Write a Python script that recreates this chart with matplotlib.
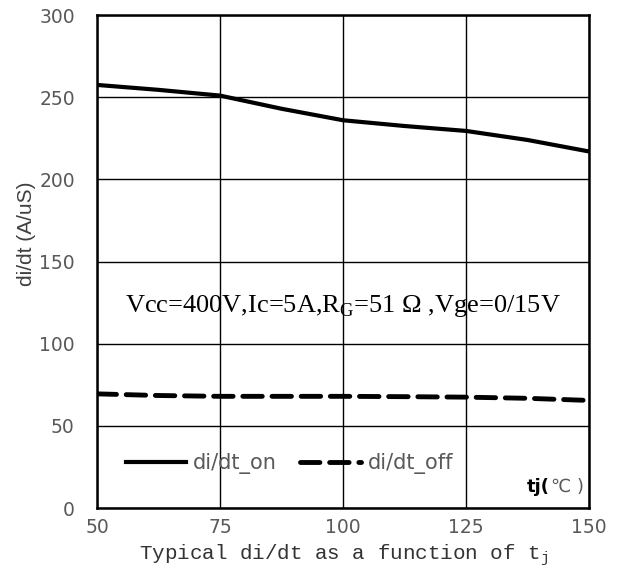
import numpy as np
import matplotlib
matplotlib.use('Agg')
from matplotlib import pyplot as plt

plt.rcParams['font.family'] = ['DejaVu Sans']

tj = [50, 62.5, 75, 87.5, 100, 112.5, 125, 137.5, 150]
di_on = [257.5, 254.5, 251, 243, 236, 232.5, 229.5, 224, 217]
di_off = [69.5, 68.5, 68, 68, 68, 67.8, 67.5, 66.8, 65.5]

fig = plt.figure(figsize=(6.22, 5.8), dpi=100)
ax = fig.add_axes([0.156, 0.124, 0.791, 0.85])

ax.plot(tj, di_on, color='black', lw=3, label='di/dt_on')
ax.plot(tj, di_off, color='black', lw=3.5, ls=(0, (4, 2)), dash_capstyle='round',
        label='di/dt_off')

ax.set_xlim(50, 150)
ax.set_ylim(0, 300)
ax.set_xticks([50, 75, 100, 125, 150])
ax.set_yticks(range(0, 301, 50))
ax.grid(True, color='black', lw=1)
for s in ax.spines.values():
    s.set_linewidth(1.8)
    s.set_color('black')
ax.tick_params(length=0, labelsize=13.5, labelcolor='#595959')
ax.tick_params(axis='y', pad=16)
ax.tick_params(axis='x', pad=7)

ax.set_ylabel('di/dt (A/uS)', fontsize=15, color='#404040', family='Liberation Sans')
ax.yaxis.set_label_coords(-0.125, 0.556)
ax.set_xlabel('Typical di/dt as a function of t$_\\mathregular{j}$', fontsize=15,
              family='Liberation Mono', color='#333333', labelpad=4)

ax.text(100, 123, 'Vcc=400V,Ic=5A,R$_\\mathregular{G}$=51 Ω ,Vge=0/15V', ha='center', va='center',
        fontsize=19, family='Liberation Serif')
ax.text(142, 13, 'tj(', ha='right', va='center', fontsize=13, fontweight='bold', color='black')
ax.text(142.2, 13, '℃ )', ha='left', va='center', fontsize=13, color='#595959')

ax.legend(loc='center left', bbox_to_anchor=(0.02, 0.09), ncol=2, frameon=False,
          fontsize=15, handlelength=2.9, handletextpad=0.35, columnspacing=1.1,
          labelcolor='#595959')

fig.savefig('out.png', dpi=100)
